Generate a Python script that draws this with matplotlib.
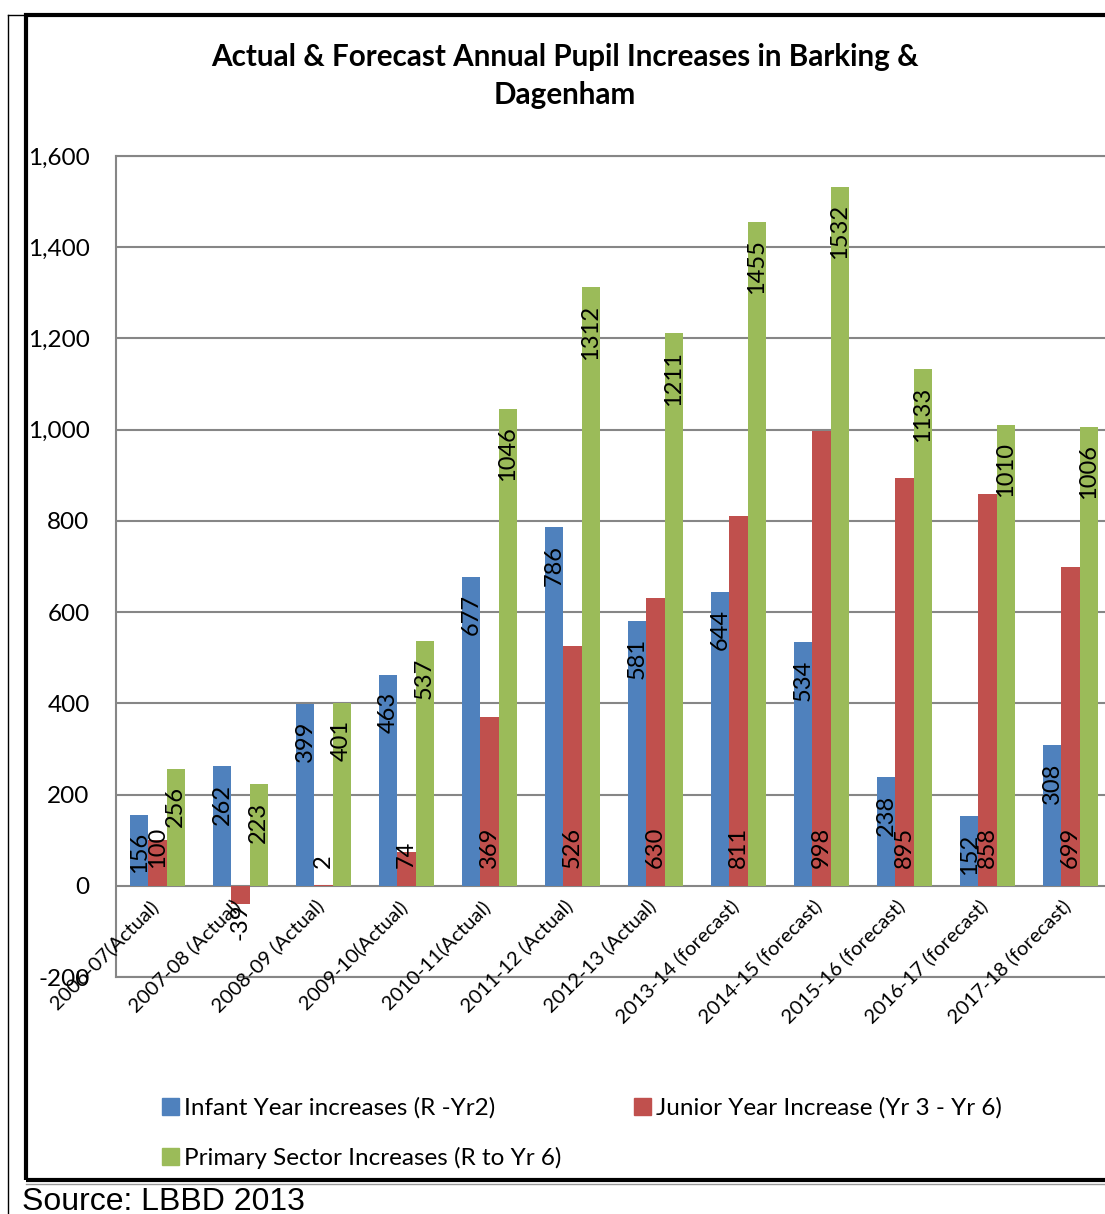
import numpy as np
import matplotlib
matplotlib.use("Agg")
import matplotlib.pyplot as plt
from matplotlib.patches import Patch, Rectangle
from matplotlib.lines import Line2D
from matplotlib.ticker import FuncFormatter

plt.rcParams['font.family'] = ['Lato', 'DejaVu Sans']

years = ['2006-07(Actual)', '2007-08 (Actual)', '2008-09 (Actual)', '2009-10(Actual)',
         '2010-11(Actual)', '2011-12 (Actual)', '2012-13 (Actual)', '2013-14 (forecast)',
         '2014-15 (forecast)', '2015-16 (forecast)', '2016-17 (forecast)', '2017-18 (forecast)']
infant = [156, 262, 399, 463, 677, 786, 581, 644, 534, 238, 152, 308]
junior = [100, -39, 2, 74, 369, 526, 630, 811, 998, 895, 858, 699]
primary = [256, 223, 401, 537, 1046, 1312, 1211, 1455, 1532, 1133, 1010, 1006]
series_names = ['Infant Year increases (R -Yr2)', 'Junior Year Increase (Yr 3 - Yr 6)',
                'Primary Sector Increases (R to Yr 6)']
colors = ['#4F81BD', '#C0504D', '#9BBB59']
# junior labels sit at the bar base, the others at the bar end
label_pos = ['end', 'base', 'end']

W, H = 1105, 1214
fig = plt.figure(figsize=(W / 100, H / 100), dpi=100)


def fx(px):
    return px / W


def fy(py):
    return 1 - py / H


# plot area in pixels
left, right, top, bottom = 116, 1112, 156, 977
ax = fig.add_axes([fx(left), fy(bottom), fx(right) - fx(left), fy(top) - fy(bottom)])

x = np.arange(len(years))
bw = 0.217
lsize = 17
for k, (vals, c, lp) in enumerate(zip([infant, junior, primary], colors, label_pos)):
    pos = x + (k - 1) * bw
    ax.bar(pos, vals, width=bw, color=c, zorder=3)
    for p, v in zip(pos, vals):
        txt = str(v)
        tlen = len(txt) * 27
        if v < 0:
            ax.text(p, -38, txt, rotation=90, ha='center', va='top', fontsize=lsize, zorder=4)
        elif lp == 'end' and v - 38 - tlen > 30:
            ax.text(p, v - 38, txt, rotation=90, ha='center', va='top', fontsize=lsize, zorder=4)
        else:
            ax.text(p, 40, txt, rotation=90, ha='center', va='bottom', fontsize=lsize, zorder=4)

ax.set_xlim(-0.5, len(years) - 0.5)
ax.set_ylim(-200, 1600)
ax.set_yticks(np.arange(-200, 1601, 200))
ax.yaxis.set_major_formatter(FuncFormatter(lambda v, p: f'{int(v):,}'))
ax.tick_params(axis='y', labelsize=17.5, length=0, pad=19)
ax.set_xticks([])
ax.grid(axis='y', color='#868686', linewidth=1.5, zorder=1)
for s in ['left', 'top', 'bottom']:
    ax.spines[s].set_color('#868686')
    ax.spines[s].set_linewidth(1.5)
ax.spines['right'].set_visible(False)

# category labels hang just under the zero line
for i, lab in enumerate(years):
    ax.text(i - 0.03, -38, lab, rotation=45, ha='right', va='center',
            rotation_mode='anchor', fontsize=14.5, zorder=5)

fig.text(fx(565), fy(57), 'Actual & Forecast Annual Pupil Increases in Barking &',
         ha='center', va='center', fontsize=21.3, fontweight='bold')
fig.text(fx(565), fy(95), 'Dagenham', ha='center', va='center', fontsize=21.3, fontweight='bold')

handles = [Patch(color=c) for c in colors]
order = [0, 2, 1]
fig.legend([handles[i] for i in order], [series_names[i] for i in order],
           ncol=2, loc='upper left', bbox_to_anchor=(fx(162), fy(1097)),
           frameon=False, fontsize=17.5, handlelength=0.7, handleheight=0.7,
           handletextpad=0.2, columnspacing=3.0, labelspacing=1.15, borderpad=0,
           borderaxespad=0)

# frames around the chart
fig.add_artist(Rectangle((fx(26), fy(1180)), fx(1130) - fx(26), fy(15) - fy(1180),
                         fill=False, edgecolor='black', linewidth=3, transform=fig.transFigure))
fig.add_artist(Line2D([fx(26), fx(1110)], [fy(1184), fy(1184)], color='#999999',
                      linewidth=1, transform=fig.transFigure))
fig.add_artist(Line2D([fx(8), fx(8)], [fy(15), fy(1214)], color='black',
                      linewidth=1, transform=fig.transFigure))
fig.add_artist(Line2D([fx(8), fx(26)], [fy(15), fy(15)], color='black',
                      linewidth=1, transform=fig.transFigure))

fig.text(fx(22), fy(1187), 'Source: LBBD 2013', ha='left', va='top', fontsize=23,
         family='Liberation Sans')

fig.savefig('out.png', dpi=100)
